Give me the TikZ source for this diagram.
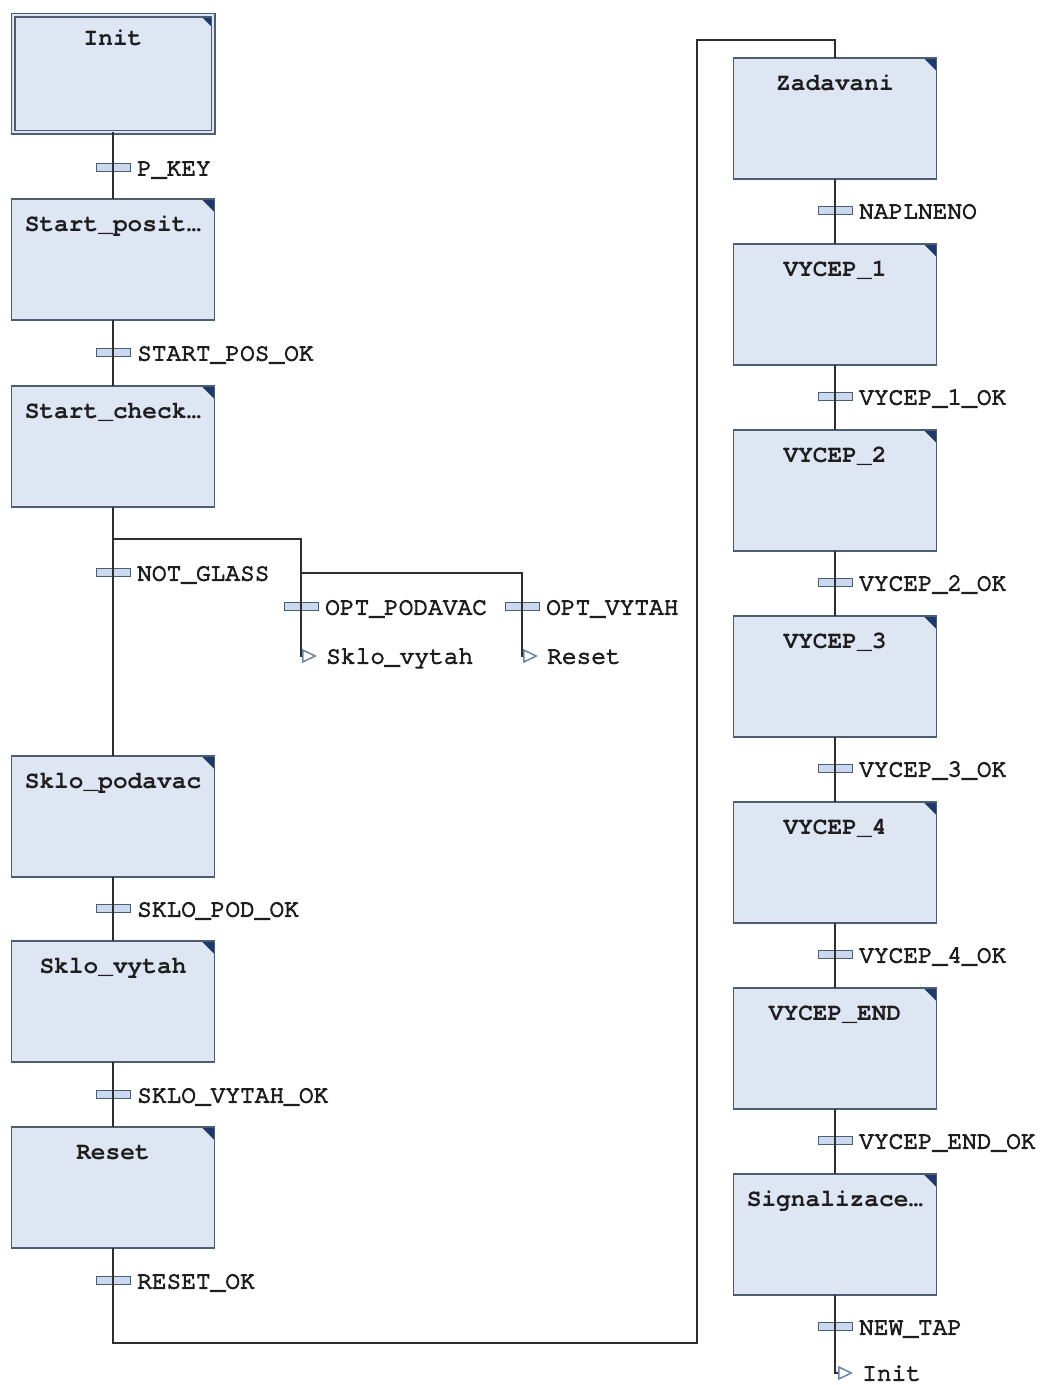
\documentclass[tikz,border=0pt]{standalone}
\usepackage{fontspec}
\newfontfamily\sfcfont{texgyrecursor}[Extension=.otf, UprightFont=*-regular, BoldFont=*-bold]
\newfontfamily\sfclabel{texgyrecursor-regular.otf}[FakeBold=4]
\newcommand{\sfcsize}{\fontsize{24.5pt}{28pt}\selectfont}
\usetikzlibrary{arrows.meta}

\definecolor{stepfill}{HTML}{DEE6F4}
\definecolor{stepdraw}{HTML}{4E5E72}
\definecolor{barfill}{HTML}{CAD9EE}
\definecolor{cornerblue}{HTML}{1D3A6C}
\definecolor{wirecol}{HTML}{2E2E2E}
\definecolor{tipblue}{HTML}{6A84AA}
\definecolor{txtcol}{HTML}{1E1E1E}

\tikzset{
	stepbox/.style={draw=stepdraw, fill=stepfill, line width=1.4pt, anchor=north,
		minimum width=203pt, inner sep=0pt, outer sep=0pt,
		text height=32pt, text depth=89pt, text=txtcol,
		font=\sfcfont\bfseries\sfcsize,
		path picture={\fill[cornerblue] ([xshift=-13pt]path picture bounding box.north east)
			-- (path picture bounding box.north east)
			-- ([yshift=-13pt]path picture bounding box.north east) -- cycle;}},
	initbox/.style={stepbox, minimum width=200pt, double=stepfill, double distance=2pt,
		line width=1.5pt, text height=30.6pt, text depth=86.4pt},
	trbar/.style={draw=stepdraw, fill=barfill, line width=1pt, minimum width=34pt,
		minimum height=8pt, inner sep=0pt, outer sep=0pt},
	trlabel/.style={font=\sfclabel\sfcsize, text=txtcol, inner sep=0pt,
		text height=15pt, text depth=0pt, xshift=7pt, yshift=-1pt},
	jumplabel/.style={font=\sfclabel\sfcsize, text=txtcol, inner sep=0pt,
		text height=15pt, text depth=0pt, anchor=west},
	wire/.style={draw=wirecol, line width=1.8pt},
	jumpline/.style={wire, shorten >=9pt,
		-{Triangle[open, length=15pt, width=14pt, color=tipblue, line width=1.5pt]}},
}

\begin{document}
\begin{tikzpicture}[x=1pt, y=-1pt]
	\useasboundingbox (0,0) rectangle (1042,1385);

	% left column
	\node[initbox] (init) at (113,15) {Init};
	\node[stepbox] (startpos) at (113,199) {Start\_posit…};
	\node[stepbox] (startchk) at (113,386) {Start\_check…};
	\node[stepbox] (sklopod) at (113,756) {Sklo\_podavac};
	\node[stepbox] (sklovyt) at (113,941) {Sklo\_vytah};
	\node[stepbox] (reset) at (113,1127) {Reset};

	\node[trbar, label={[trlabel]right:P\_KEY}] (tPkey) at (113,167) {};
	\node[trbar, label={[trlabel]right:START\_POS\_OK}] (tStartPos) at (113,352) {};
	\node[trbar, label={[trlabel]right:NOT\_GLASS}] (tNotGlass) at (113,572) {};
	\node[trbar, label={[trlabel]right:OPT\_PODAVAC}] (tOptPod) at (301,606) {};
	\node[trbar, label={[trlabel]right:OPT\_VYTAH}] (tOptVyt) at (522,606) {};
	\node[trbar, label={[trlabel]right:SKLO\_POD\_OK}] (tSkloPod) at (113,908) {};
	\node[trbar, label={[trlabel]right:SKLO\_VYTAH\_OK}] (tSkloVyt) at (113,1094) {};
	\node[trbar, label={[trlabel]right:RESET\_OK}] (tReset) at (113,1280) {};

	\node[jumplabel] (jPod) at (326,656) {Sklo\_vytah};
	\node[jumplabel] (jVyt) at (547,656) {Reset};

	% right column
	\node[stepbox] (zadavani) at (835,58) {Zadavani};
	\node[stepbox] (vycep1) at (835,244) {VYCEP\_1};
	\node[stepbox] (vycep2) at (835,430) {VYCEP\_2};
	\node[stepbox] (vycep3) at (835,616) {VYCEP\_3};
	\node[stepbox] (vycep4) at (835,802) {VYCEP\_4};
	\node[stepbox] (vycepend) at (835,988) {VYCEP\_END};
	\node[stepbox] (signal) at (835,1174) {Signalizace…};

	\node[trbar, label={[trlabel]right:NAPLNENO}] (tNaplneno) at (835,210) {};
	\node[trbar, label={[trlabel]right:VYCEP\_1\_OK}] (tVycep1) at (835,396) {};
	\node[trbar, label={[trlabel]right:VYCEP\_2\_OK}] (tVycep2) at (835,582) {};
	\node[trbar, label={[trlabel]right:VYCEP\_3\_OK}] (tVycep3) at (835,768) {};
	\node[trbar, label={[trlabel]right:VYCEP\_4\_OK}] (tVycep4) at (835,954) {};
	\node[trbar, label={[trlabel]right:VYCEP\_END\_OK}] (tVycepEnd) at (835,1140) {};
	\node[trbar, label={[trlabel]right:NEW\_TAP}] (tNewTap) at (835,1326) {};

	\node[jumplabel] (jInit) at (862,1373) {Init};

	\coordinate (div1) at (113,539);
	\coordinate (div2) at (301,573);
	\coordinate (loopA) at (697,1343);
	\coordinate (loopB) at (697,40);

	% connections
	\draw[wire] (init) -- (startpos);
	\draw[wire] (startpos) -- (startchk);
	\draw[wire] (startchk) -- (sklopod);
	\draw[wire] (sklopod) -- (sklovyt);
	\draw[wire] (sklovyt) -- (reset);
	\draw[jumpline] (div1) -| (tOptPod.center) |- (jPod);
	\draw[jumpline] (div2) -| (tOptVyt.center) |- (jVyt);
	\draw[wire] (reset.south) |- (loopA) -- (loopB) -| (zadavani.north);
	\draw[wire] (zadavani) -- (vycep1);
	\draw[wire] (vycep1) -- (vycep2);
	\draw[wire] (vycep2) -- (vycep3);
	\draw[wire] (vycep3) -- (vycep4);
	\draw[wire] (vycep4) -- (vycepend);
	\draw[wire] (vycepend) -- (signal);
	\draw[jumpline] (signal.south) |- (jInit);
\end{tikzpicture}
\end{document}
